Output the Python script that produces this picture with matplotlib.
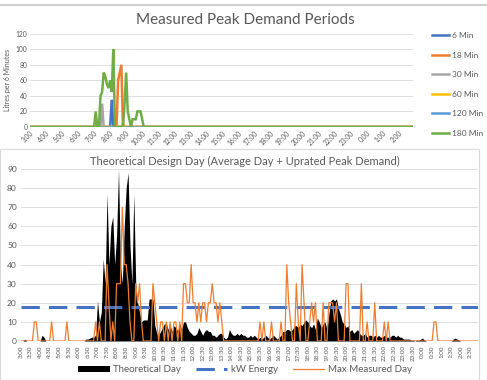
import matplotlib
matplotlib.use('Agg')
import matplotlib.pyplot as plt
from matplotlib.patches import Rectangle
from matplotlib.lines import Line2D

plt.rcParams['font.family'] = ['Lato', 'DejaVu Sans']

# time labels (6 minute steps starting 3:00)
hours = [3, 4, 5, 6, 7, 8, 9, 10, 11, 12, 13, 14, 15, 16, 17, 18, 19, 20, 21, 22, 23, 0, 1, 2]
hour_labels = [f'{h}:00' for h in hours]
half_labels = [f'{h}:{m}' for h in hours for m in ('00', '30')]
n_steps = 240
steps = list(range(n_steps))

# --- top chart: measured peak demand periods (values from 7:00 onwards, rest zero)
peak_start = 40
min6 = [0, 0, 0, 0, 0, 0, 0, 0, 0, 0, 0, 35, 0, 0, 0, 0]
min18 = [0, 0, 0, 0, 0, 0, 0, 0, 0, 0, 0, 0, 0, 0, 0, 60, 70, 80, 0]
min30 = [0, 0, 0, 0, 0, 30, 0]
min60 = [0, 0, 0, 0, 0, 0, 0, 0, 0, 0, 0, 0, 0, 0, 0, 0, 0, 0, 5, 0]
min120 = [0, 0, 0, 0, 0, 0, 0, 0, 0, 0, 0, 0, 0, 0, 0, 0, 0, 0, 0, 0,
          0, 0, 0, 0, 0, 0, 0, 0, 0, 0, 0, 0]
min180 = [0, 20, 0, 0, 40, 45, 70, 65, 55, 50, 60, 45, 100, 0, 0, 0, 0, 0, 0, 30,
          70, 20, 10, 0, 10, 10, 10, 20, 20, 20, 10, 0]

# --- bottom chart: theoretical design day
theory = [0, 0, 1, 0, 0, 0, 0, 0, 0, 0,
          0, 3, 2, 0, 0, 0, 0, 0, 0, 0,
          0, 0, 0, 0, 0, 0, 0, 0, 0, 0,
          0, 0, 0, 0, 1, 1, 1.5, 2, 2, 3,
          21, 10, 15, 43, 30, 77, 40, 60, 65, 40,
          55, 90, 40, 30, 60, 80, 88, 50, 30, 77,
          30, 20, 15, 10, 11, 11, 11, 22, 22, 22,
          8, 4, 3, 5, 7, 9, 9, 6, 8, 5,
          8, 7, 5, 9, 6, 10, 10, 7, 5, 4,
          3, 3, 4, 7, 5, 3, 5, 6, 5, 5,
          3, 3, 2, 3, 4, 4, 2, 1, 2, 6,
          4, 3, 3, 4, 3, 4, 3, 3, 2, 2,
          3, 2, 3, 2, 1, 2, 1, 2, 3, 2,
          1, 2, 3, 2, 1, 2, 3, 5, 5, 6,
          6, 5, 6, 8, 8, 7, 9, 8, 10, 11,
          10, 8, 7, 9, 6, 12, 10, 7, 9, 10,
          6, 14, 21, 22, 21, 22, 17, 14, 10, 9,
          7, 8, 5, 6, 4, 5, 6, 4, 3, 3,
          4, 2, 3, 3, 2, 3, 2, 3, 2, 2,
          3, 2, 2, 2, 3, 3, 2, 3, 2, 2,
          1, 1, 1, 1, 0.5, 0.5, 0, 0.5, 0.5, 1,
          1.5, 0.5, 0, 0, 0, 0, 0, 0, 0, 0,
          0, 0, 0, 0, 0, 0, 1, 1.5, 1, 0.5,
          0, 0, 0, 0, 0, 0, 0, 0, 0, 0]

max_day = [0, 0, 0, 0, 0, 0, 0, 10, 10, 0,
           0, 0, 0, 0, 0, 0, 10, 0, 0, 0,
           0, 0, 0, 0, 10, 0, 0, 0, 0, 0,
           0, 0, 0, 0, 0, 0, 0, 0, 0, 10,
           0, 10, 0, 0, 0, 40, 20, 0, 10, 0,
           30, 30, 30, 70, 40, 40, 30, 10, 0, 0,
           30, 20, 30, 10, 0, 0, 0, 0, 0, 30,
           20, 10, 0, 10, 10, 0, 10, 0, 10, 0,
           10, 10, 0, 10, 0, 30, 30, 20, 20, 40,
           20, 20, 10, 20, 10, 20, 20, 10, 20, 20,
           30, 20, 20, 10, 20, 10, 0, 0, 0, 0,
           0, 0, 0, 0, 0, 0, 0, 0, 0, 0,
           0, 0, 0, 0, 0, 10, 0, 10, 0, 0,
           0, 10, 0, 0, 0, 0, 10, 0, 0, 40,
           20, 10, 0, 0, 30, 10, 0, 40, 20, 0,
           0, 10, 20, 10, 20, 0, 0, 0, 20, 0,
           0, 20, 20, 20, 10, 20, 0, 0, 0, 0,
           30, 30, 0, 0, 0, 0, 0, 0, 30, 0,
           0, 10, 0, 0, 0, 20, 0, 0, 0, 0,
           10, 0, 10, 0, 0, 0, 0, 0, 0, 0,
           0, 0, 0, 0, 0, 0, 0, 0, 0, 0,
           0, 0, 0, 0, 0, 0, 10, 10, 0, 0,
           0, 0, 0, 0, 0, 0, 0, 0, 0, 0,
           0, 0, 0, 0, 0, 0, 0, 0, 0, 0]

kw_energy = 17.7

grey_txt = '#595959'
grid_col = '#D9D9D9'


def pad(seg):
    return [0] * peak_start + seg + [0] * (n_steps - peak_start - len(seg))


fig = plt.figure(figsize=(4.87, 3.8), dpi=100)

# ---------------- top chart
ax1 = fig.add_axes([30 / 487, 1 - 127 / 380, 383 / 487, 93.3 / 380])
top_series = [('6 Min', min6, '#4472C4'), ('18 Min', min18, '#ED7D31'),
              ('30 Min', min30, '#A5A5A5'), ('60 Min', min60, '#FFC000'),
              ('120 Min', min120, '#5B9BD5'), ('180 Min', min180, '#70AD47')]
for name, seg, col in top_series:
    ax1.plot(steps, pad(seg), color=col, lw=1.8, label=name, solid_joinstyle='miter')
ax1.set_xlim(0, n_steps - 1)
ax1.set_ylim(0, 120)
ax1.set_yticks(range(0, 121, 20))
ax1.set_xticks(range(0, n_steps, 10))
ax1.set_xticklabels(hour_labels, rotation=45, ha='right', rotation_mode='anchor')
ax1.tick_params(length=0, labelsize=4.8, colors=grey_txt, pad=2)
ax1.grid(axis='y', color=grid_col, lw=0.6)
ax1.set_axisbelow(True)
for s in ax1.spines.values():
    s.set_visible(False)
ax1.set_ylabel('Litres per 6 Minutes', fontsize=5, color=grey_txt, labelpad=3)
fig.text(245 / 487, 1 - 20 / 380, 'Measured Peak Demand Periods', ha='center', va='center',
         fontsize=11, color=grey_txt)
ax1.legend(loc='upper left', bbox_to_anchor=(428 / 487, 1 - 28 / 380),
           bbox_transform=fig.transFigure, frameon=False, fontsize=6,
           handlelength=2.0, handletextpad=0.35, labelspacing=1.5, borderpad=0,
           labelcolor=grey_txt)

# ---------------- bottom chart
ax2 = fig.add_axes([21 / 487, 1 - 341 / 380, 457 / 487, 172 / 380])
ax2.fill_between(steps, theory, color='black', lw=0, label='Theoretical Day')
ax2.plot(steps, [kw_energy] * n_steps, color='#4472C4', lw=2.2, dashes=(6, 3),
         label='kW Energy')
ax2.plot(steps, max_day, color='#ED7D31', lw=0.9, label='Max Measured Day')
ax2.set_xlim(0, n_steps - 1)
ax2.set_ylim(0, 90)
ax2.set_yticks(range(0, 91, 10))
ax2.set_xticks(range(0, n_steps, 5))
ax2.set_xticklabels(half_labels, rotation=90)
ax2.tick_params(length=0, colors=grey_txt, pad=3)
ax2.tick_params(axis='x', labelsize=4.5)
ax2.tick_params(axis='y', labelsize=6)
ax2.grid(axis='y', color=grid_col, lw=0.6)
ax2.set_axisbelow(True)
for s in ax2.spines.values():
    s.set_visible(False)
fig.text(245 / 487, 1 - 161 / 380,
         'Theoretical Design Day (Average Day + Uprated Peak Demand)',
         ha='center', va='center', fontsize=8, color=grey_txt)
fig.legend(*ax2.get_legend_handles_labels(), loc='center', ncol=3,
           bbox_to_anchor=(245 / 487, 1 - 370 / 380), frameon=False, fontsize=7,
           handlelength=3.2, handleheight=0.6, columnspacing=1.5, handletextpad=0.4,
           labelcolor=grey_txt)

# chart borders
fig.add_artist(Line2D([0, 1], [1 - 5 / 380] * 2, color='#D0D0D0', lw=1.5))
fig.add_artist(Rectangle((0, 0), 479 / 487, 231 / 380, transform=fig.transFigure,
                         fill=False, ec='#D9D9D9', lw=0.8))

fig.savefig('out.png', dpi=100)
